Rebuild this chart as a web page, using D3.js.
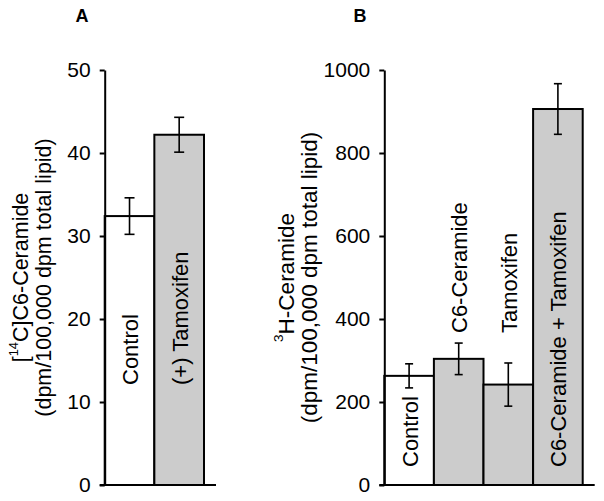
<!DOCTYPE html>
<html>
<head>
<meta charset="utf-8">
<script src="https://cdn.jsdelivr.net/npm/d3@7"></script>
<style>
  html, body { margin: 0; padding: 0; background: #fff; }
  svg { display: block; font-family: "Liberation Sans", Arial, sans-serif; }
</style>
</head>
<body>
<svg id="chart" width="604" height="501"></svg>
<script>
// ---- Data ----
const categoriesA = ["Control", "(+) Tamoxifen"];
const valuesA = [32.4, 42.2];
const errorsA = [2.2, 2.1];
const fillsA = ["#ffffff", "#cccccc"];
const ticksA = [0, 10, 20, 30, 40, 50];

const categoriesB = ["Control", "C6-Ceramide", "Tamoxifen", "C6-Ceramide + Tamoxifen"];
const valuesB = [263, 304, 242, 906];
const errorsB = [29, 38, 52, 61];
const fillsB = ["#ffffff", "#cccccc", "#cccccc", "#cccccc"];
const ticksB = [0, 200, 400, 600, 800, 1000];

// ---- Layout ----
const svg = d3.select("#chart");
const FONT = "Liberation Sans, Arial, sans-serif";
const yTop = 70, yBottom = 485;

function panel(opts) {
  const g = svg.append("g");
  const y = d3.scaleLinear().domain([0, opts.max]).range([yBottom, yTop]);
  const x = d3.scaleBand().domain(opts.categories).range(opts.xRange).padding(0);

  // bars
  g.selectAll("rect.bar").data(opts.values).join("rect")
    .attr("class", "bar")
    .attr("x", (d, i) => x(opts.categories[i]))
    .attr("y", d => y(d))
    .attr("width", x.bandwidth())
    .attr("height", d => y(0) - y(d))
    .attr("fill", (d, i) => opts.fills[i])
    .attr("stroke", "#000")
    .attr("stroke-width", 2);

  // error bars
  opts.values.forEach((v, i) => {
    const cx = x(opts.categories[i]) + x.bandwidth() / 2;
    const e = opts.errors[i];
    g.append("line").attr("x1", cx).attr("x2", cx)
      .attr("y1", y(v + e)).attr("y2", y(v - e))
      .attr("stroke", "#000").attr("stroke-width", 1.6);
    [v + e, v - e].forEach(t => {
      g.append("line").attr("x1", cx - opts.cap / 2).attr("x2", cx + opts.cap / 2)
        .attr("y1", y(t)).attr("y2", y(t))
        .attr("stroke", "#000").attr("stroke-width", 1.6);
    });
  });

  // y axis
  const ax = g.append("g")
    .attr("transform", `translate(${opts.xRange[0]},0)`)
    .call(d3.axisLeft(y).tickValues(opts.ticks).tickFormat(d3.format("d"))
      .tickSize(5).tickSizeOuter(0).tickPadding(9));
  ax.select(".domain").attr("stroke", "#000").attr("stroke-width", 2);
  ax.selectAll(".tick line").attr("stroke", "#000").attr("stroke-width", 2);
  ax.selectAll(".tick text").attr("font-family", FONT).attr("font-size", 21).attr("fill", "#000");

  // baseline
  g.append("line")
    .attr("x1", opts.xRange[0] - 5).attr("x2", opts.xRange[1] + opts.baseExt)
    .attr("y1", y(0)).attr("y2", y(0))
    .attr("stroke", "#000").attr("stroke-width", 2);

  // bar labels
  opts.categories.forEach((c, i) => {
    const cx = x(c) + x.bandwidth() / 2;
    const sy = opts.labelStart[i];
    g.append("text")
      .attr("transform", `translate(${cx + 1},${sy}) rotate(-90)`)
      .attr("text-anchor", "start")
      .attr("dominant-baseline", "central")
      .attr("font-family", FONT).attr("font-size", 22).attr("fill", "#000")
      .text(c);
  });

  // y label
  const cy = (yTop + yBottom) / 2;
  const t1 = g.append("text")
    .attr("transform", `translate(${opts.labelX[0]},${cy}) rotate(-90)`)
    .attr("text-anchor", "middle").attr("dominant-baseline", "central")
    .attr("font-family", FONT).attr("font-size", opts.labelSize).attr("fill", "#000");
  opts.label1.forEach(part => {
    const ts = t1.append("tspan").text(part.t);
    if (part.sup) ts.attr("font-size", opts.labelSize * 0.6).attr("dy", -opts.labelSize * 0.35);
    else if (part.after) ts.attr("dy", opts.labelSize * 0.35);
  });
  g.append("text")
    .attr("transform", `translate(${opts.labelX[1]},${cy}) rotate(-90)`)
    .attr("text-anchor", "middle").attr("dominant-baseline", "central")
    .attr("font-family", FONT).attr("font-size", opts.labelSize).attr("fill", "#000")
    .text(opts.label2);

  // panel title
  g.append("text")
    .attr("x", opts.titleX).attr("y", 22)
    .attr("text-anchor", "middle")
    .attr("font-family", FONT).attr("font-size", 18).attr("font-weight", "bold").attr("fill", "#000")
    .text(opts.title);
}

panel({
  categories: categoriesA, values: valuesA, errors: errorsA, fills: fillsA, ticks: ticksA,
  max: 50, xRange: [104.7, 204], baseExt: 12, cap: 10,
  labelStart: [385, 385],
  labelX: [21, 44], labelSize: 21.5,
  label1: [{t: "["}, {t: "14", sup: true}, {t: "C]C6-Ceramide", after: true}],
  label2: "(dpm/100,000 dpm total lipid)",
  title: "A", titleX: 82
});

panel({
  categories: categoriesB, values: valuesB, errors: errorsB, fills: fillsB, ticks: ticksB,
  max: 1000, xRange: [384.3, 582.7], baseExt: 12, cap: 8,
  labelStart: [467, 333, 333, 467],
  labelX: [286, 309], labelSize: 22.5,
  label1: [{t: "3", sup: true}, {t: "H-Ceramide", after: true}],
  label2: "(dpm/100,000 dpm total lipid)",
  title: "B", titleX: 360
});
</script>
</body>
</html>
